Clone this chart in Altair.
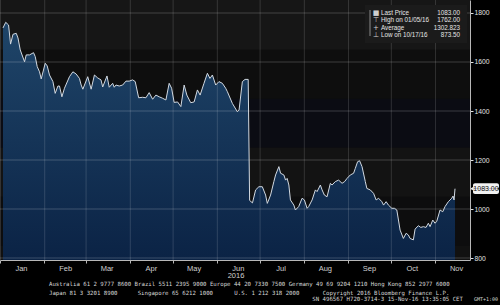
import altair as alt
import pandas as pd

# ---- data (day offset from 2016-01-01, price) ----
days = [2.1, 4.0, 6.0, 7.4, 9.1, 11.4, 12.6, 14.2, 17.2, 18.4, 20.7, 23.5, 24.7, 26.1, 27.7, 28.9,
        31.7, 33.1, 34.7, 37.1, 38.7, 40.6, 41.7, 43.4, 45.2, 48.7, 51.1, 53.4, 55.7, 56.9, 58.1,
        61.5, 63.9, 66.2, 68.5, 70.8, 72.0, 75.0, 76.6, 79.0, 80.1, 81.3, 83.6, 86.0, 88.3, 90.6,
        93.0, 94.8, 97.2, 100.0, 102.3, 104.6, 107.0, 109.3, 111.6, 114.0, 116.3, 118.6, 120.3,
        122.1, 124.5, 126.8, 129.1, 131.0, 133.7, 136.1, 138.4, 140.3, 143.0, 145.4, 147.2, 148.9,
        151.2, 153.5, 155.9, 158.2, 159.4, 162.9, 166.4, 167.6, 169.9, 171.8, 174.0, 175.0, 177.0,
        179.2, 181.5, 183.9, 186.2, 187.4, 189.7, 192.0, 193.2, 195.5, 196.7, 199.0, 200.2, 201.3,
        202.5, 203.6, 206.0, 207.1, 209.4, 211.8, 213.4, 215.3, 216.4, 218.8, 221.1, 222.3, 224.6,
        225.8, 227.4, 229.3, 231.6, 232.8, 235.1, 237.4, 239.8, 241.6, 243.3, 245.6, 247.9, 249.1,
        250.7, 252.1, 253.8, 256.1, 257.2, 259.6, 261.9, 263.7, 265.4, 267.7, 268.9, 270.7, 272.3,
        274.7, 276.5, 278.2, 280.5, 282.8, 284.7, 286.3, 287.5, 289.8, 291.0, 293.3, 295.0, 296.8,
        298.7, 300.3, 301.5, 303.4, 305.0, 306.2, 308.5, 310.4, 312.0, 314.3, 316.7, 317.6, 318.3,
        319.0]
prices = [1739, 1762, 1751, 1673, 1713, 1717, 1698, 1649, 1601, 1629, 1629, 1638, 1622, 1581, 1560, 1531,
          1595, 1584, 1547, 1520, 1472, 1502, 1502, 1458, 1493, 1540, 1560, 1551, 1533, 1506, 1489,
          1540, 1489, 1547, 1535, 1527, 1498, 1543, 1497, 1513, 1497, 1506, 1502, 1506, 1522, 1522,
          1527, 1520, 1454, 1456, 1454, 1475, 1448, 1465, 1458, 1452, 1445, 1513, 1493,
          1435, 1437, 1418, 1506, 1465, 1434, 1437, 1486, 1465, 1513, 1554, 1533, 1547,
          1506, 1520, 1513, 1493, 1479, 1431, 1397, 1404, 1520, 1529, 1529, 1035, 1025,
          1078, 1091, 1091, 1057, 1023, 1057, 1112, 1139, 1173, 1146, 1139, 1118, 1125,
          1098, 1037, 1016, 996, 1010, 1044, 1037, 1003, 1010, 1037, 1078, 1071, 1098,
          1078, 1057, 1050, 1105, 1098, 1112, 1118, 1105, 1112, 1125, 1139, 1146, 1166,
          1193, 1197, 1173, 1112, 1084, 1078, 1064, 1037, 1044, 1030, 1016, 1030, 1016,
          1003, 1003, 996, 914, 880, 901, 894, 880, 874, 918, 932, 925, 928,
          925, 942, 928, 955, 942, 950, 996, 989, 1010, 1030, 1044, 1053, 1037,
          1083]

y_ticks = [800, 1000, 1200, 1400, 1600, 1800]
y_domain = [792, 1853]
band_lo = [1650, 1450, 1250, 1050, 850, 792]
band_hi = [1853, 1650, 1450, 1250, 1050, 850]
band_shade = ["#161616", "#0e0e0e", "#0b0c13", "#131313", "#0d0d0e", "#111111"]

legend_labels = ["Last Price", "High on 01/05/16", "Average", "Low on 10/17/16"]
legend_values = ["1083.00", "1762.00", "1302.823", "873.50"]
legend_icons = ["■", "⊤", "+", "⊥"]
last_price = 1083.0
last_label = "1083.00"

footer1 = "Australia 61 2 9777 8600 Brazil 5511 2395 9000 Europe 44 20 7330 7500 Germany 49 69 9204 1210 Hong Kong 852 2977 6000"
footer2 = ["Japan 81 3 3201 8900", "Singapore 65 6212 1000", "U.S. 1 212 318 2000",
           "Copyright 2016 Bloomberg Finance L.P."]
footer3 = ["SN 496567 H720-3714-3 15-Nov-16 13:35:05 CET", "GMT+1:00"]

# ---- build ----
DAY = 86400000
ms0 = int(pd.Timestamp("2016-01-01").value // 10**6)
ms_end = ms0 + 329.5 * DAY
df = pd.DataFrame({"t": [ms0 + d * DAY for d in days], "price": prices})
month_ms = [int(pd.Timestamp(2016, m, 1).value // 10**6) for m in range(1, 12)]

W, H = 470, 260
xscale = alt.Scale(type="utc", domain=[ms0, ms_end])
yscale = alt.Scale(domain=y_domain, nice=False, zero=False)

x_axis = alt.Axis(values=month_ms, labelExpr="utcFormat(datum.value, '%b')", labelOffset=21,
                  grid=False, domainColor="#b8b8b8", tickColor="#b8b8b8", tickSize=3,
                  labelColor="#d0d0d0", labelFontSize=7.5, labelFont="Liberation Sans",
                  labelPadding=1, title=None, zindex=1, labelOverlap=False, labelFlush=False,
                  labelBound=False)
y_axis = alt.Axis(orient="right", values=y_ticks, format="d", grid=False,
                  domainColor="#b8b8b8", tickColor="#e0e0e0", tickSize=3,
                  labelColor="#e0e0e0", labelFontSize=6.8, labelFont="Liberation Sans",
                  labelPadding=1, title=None, zindex=1)

bands = alt.Chart(pd.DataFrame({"lo": band_lo, "hi": band_hi, "shade": band_shade})).mark_rect().encode(
    x=alt.X("t0:T", scale=xscale, axis=x_axis),
    x2="t1:T",
    y=alt.Y("lo:Q", scale=yscale, axis=y_axis), y2="hi:Q",
    color=alt.Color("shade:N", scale=None),
).transform_calculate(t0=str(ms0), t1=str(ms_end))

grad = alt.Gradient(gradient="linear",
                    stops=[alt.GradientStop(color="#1f4569", offset=0),
                           alt.GradientStop(color="#0b2345", offset=1)],
                    x1=1, x2=1, y1=0, y2=1)
area = alt.Chart(df).mark_area(color=grad).encode(
    x=alt.X("t:T", scale=xscale, axis=x_axis),
    y=alt.Y("price:Q", scale=yscale, axis=y_axis),
    y2=alt.datum(y_domain[0]),
)

# faint grid lines drawn over the area as 1-px rectangles
hgrid = alt.Chart(pd.DataFrame({"v": y_ticks})).transform_calculate(
    va="datum.v - 2", vb="datum.v + 2", t0=str(ms0), t1=str(ms_end)
).mark_rect(color="#ffffff", opacity=0.2).encode(
    x=alt.X("t0:T", scale=xscale, axis=x_axis), x2="t1:T",
    y=alt.Y("va:Q", scale=yscale, axis=y_axis), y2="vb:Q")
vgrid = alt.Chart(pd.DataFrame({"m": month_ms})).transform_calculate(
    mb="datum.m + " + str(0.7 * DAY), ya=str(y_domain[0]), yb=str(y_domain[1])
).mark_rect(color="#ffffff", opacity=0.14).encode(
    x=alt.X("m:T", scale=xscale, axis=x_axis), x2="mb:T",
    y=alt.Y("ya:Q", scale=yscale, axis=y_axis), y2="yb:Q")

line = alt.Chart(df).mark_line(color="#d2d9e1", strokeWidth=1.0).encode(
    x=alt.X("t:T", scale=xscale, axis=x_axis), y=alt.Y("price:Q", scale=yscale, axis=y_axis))

# legend box
box = alt.Chart(pd.DataFrame({"a": [0]})).mark_rect(color="#1b1b1b").encode(
    x=alt.value(365), x2=alt.value(467), y=alt.value(5), y2=alt.value(43))
leg_line = alt.Chart(pd.DataFrame({"a": [0]})).mark_rect(color="#8a8a8a").encode(
    x=alt.value(369.5), x2=alt.value(370.5), y=alt.value(10), y2=alt.value(36))
leg_df = pd.DataFrame({"label": legend_labels, "value": legend_values, "icon": legend_icons,
                       "row": list(range(4))})
leg_base = alt.Chart(leg_df).transform_calculate(py="12.6 + datum.row * 7.6")
leg_lab = leg_base.mark_text(align="left", baseline="middle", fontSize=6.3, font="Liberation Sans",
                             color="#e6e6e6").encode(
    x=alt.value(381), y=alt.Y("py:Q", scale=None), text="label:N")
leg_val = leg_base.mark_text(align="right", baseline="middle", fontSize=6.3, font="Liberation Sans",
                             color="#e6e6e6").encode(
    x=alt.value(460), y=alt.Y("py:Q", scale=None), text="value:N")
leg_icon = leg_base.mark_text(align="center", baseline="middle", fontSize=7, font="DejaVu Sans",
                              color="#cfcfcf").encode(
    x=alt.value(376), y=alt.Y("py:Q", scale=None), text="icon:N")

# last price tag on the right axis
tag_df = pd.DataFrame({"p": [last_price], "txt": [last_label]})
tag_box = alt.Chart(tag_df).mark_rect(color="#f2f2f2", cornerRadius=2).encode(
    x=alt.value(473), x2=alt.value(499),
    y=alt.Y("p:Q", scale=yscale, axis=y_axis), y2=alt.datum(last_price - 22),
)
tag_box_top = alt.Chart(tag_df).mark_rect(color="#f2f2f2", cornerRadius=2).encode(
    x=alt.value(473), x2=alt.value(499),
    y=alt.Y("p:Q", scale=yscale, axis=y_axis), y2=alt.datum(last_price + 22),
)
tag_arrow = alt.Chart(tag_df).mark_point(shape="triangle-left", filled=True, color="#f2f2f2",
                                         size=18, opacity=1).encode(
    x=alt.value(472), y=alt.Y("p:Q", scale=yscale, axis=y_axis))
tag_text = alt.Chart(tag_df).mark_text(align="center", baseline="middle", fontSize=7,
                                       font="Liberation Sans", color="#111111").encode(
    x=alt.value(486), y=alt.Y("p:Q", scale=yscale, axis=y_axis), text="txt:N")


def txt(s, x, y, size=5.7, color="#d8d8d8", font="DejaVu Sans Mono", align="left"):
    return alt.Chart(pd.DataFrame({"s": [s]})).mark_text(
        align=align, baseline="middle", fontSize=size, font=font, color=color).encode(
        x=alt.value(x), y=alt.value(y), text="s:N")


year_lbl = txt("2016", 236, 276, size=7.5, color="#d0d0d0", font="Liberation Sans", align="center")
f1 = txt(footer1, 49, 284.3)
f2 = [txt(s, x, 292.7) for s, x in zip(footer2, [49, 137.7, 234.3, 322.7])]
f3 = [txt(footer3[0], 312.3, 299.3), txt(footer3[1], 498, 299.3, size=5.0, align="right")]

chart = alt.layer(
    bands, area, hgrid, vgrid, line, box, leg_line, leg_icon, leg_lab, leg_val,
    tag_box, tag_box_top, tag_arrow, tag_text, year_lbl, f1, *f2, *f3
).properties(
    width=W, height=H,
    padding={"left": 0, "top": 0, "right": 30, "bottom": 45},
    autosize=alt.AutoSizeParams(type="none"),
    background="#000000",
).configure_view(fill="#101010", stroke=None)

chart.save("out.html", embed_options={"renderer": "svg", "actions": False})
